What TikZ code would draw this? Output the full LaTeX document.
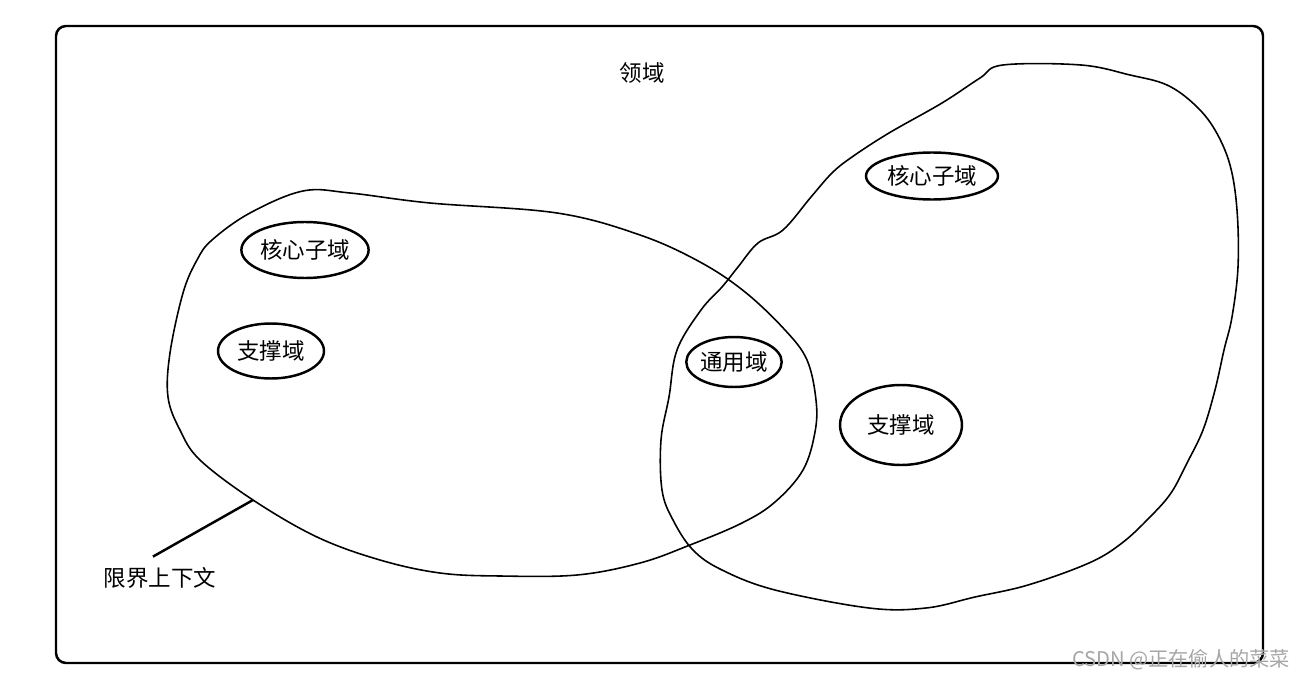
\documentclass[tikz,border=0pt]{standalone}
\usepackage{fontspec}
\setmainfont{Noto Sans CJK SC}
\usetikzlibrary{positioning,shapes.geometric}

\begin{document}
\begin{tikzpicture}[x=0.02cm,y=-0.02cm,
        every node/.style={font=\fontsize{12.8}{15}\selectfont},
        subdomain/.style={draw, ellipse, line width=1.4pt, inner sep=0pt},
        boundary/.style={line width=0.9pt, smooth cycle, tension=0.6}]
    \useasboundingbox (0,0) rectangle (1302,679);

    \draw[line width=1.4pt, rounded corners=5.7pt] (56,26) rectangle (1263,663);
    \node (domain) at (642,73) {领域};

    \draw[boundary] plot coordinates {(303,191) (350,193) (430,203) (557,213) (640,235) (700,262)
        (745,292) (785,330) (807,360) (816,400) (815,432) (803,470) (775,502) (742,523) (690,545)
        (640,563) (577,575) (500,576) (440,573) (380,560) (317,537) (253,500) (200,460) (180,430)
        (168,397) (170,353) (183,293) (197,260) (212,240) (250,213)};
    \draw[boundary] plot coordinates {(1003,65) (1081,65) (1130,75) (1167,85) (1195,105) (1215,130)
        (1230,165) (1237,210) (1238,267) (1232,317) (1224,350) (1215,390) (1203,430) (1187,463)
        (1171,493) (1150,517) (1122,543) (1089,563) (1028,585) (975,597) (926,608) (869,608)
        (775,590) (722,570) (693,550) (673,520) (662,490) (661,440) (669,397) (677,350) (701,310)
        (722,287) (738,267) (758,243) (783,230) (811,197) (832,173) (852,157) (889,133) (942,103)
        (980,78)};

    \node[subdomain, minimum width=2.48cm, minimum height=1.12cm] (coreL)    at (305,250) {核心子域};
    \node[subdomain, minimum width=2.12cm, minimum height=1.1cm]  (supportL) at (271,351) {支撑域};
    \node[subdomain, minimum width=1.8cm,  minimum height=1cm]    (generic)  at (734,362) {通用域};
    \node[subdomain, minimum width=2.64cm, minimum height=0.94cm] (coreR)    at (932,176) {核心子域};
    \node[subdomain, minimum width=2.44cm, minimum height=1.6cm]  (supportR) at (901,425) {支撑域};

    \coordinate (ctxpt) at (253,500);
    \node[inner sep=6pt] (ctx) at (160,578) {限界上下文};
    \draw[line width=1.4pt] (ctxpt) -- ([xshift=-4pt]ctx.north);

    \node[text=black!35, font=\fontsize{11.5}{14}\selectfont] (mark) at (1181,660) {CSDN @正在偷人的菜菜};
\end{tikzpicture}
\end{document}
